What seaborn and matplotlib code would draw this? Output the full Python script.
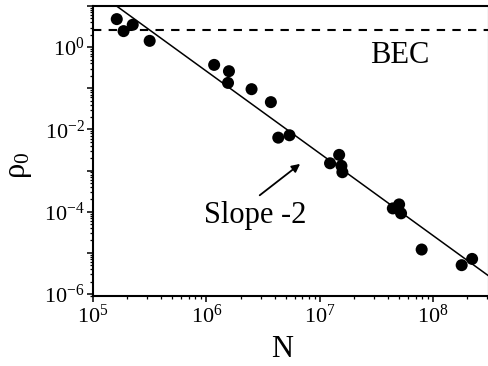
import numpy as np
import pandas as pd
import matplotlib
matplotlib.use("Agg")
import matplotlib.pyplot as plt
import matplotlib.ticker as mticker
import seaborn as sns

# phase-space density vs atom number
atom_number = [1.62e5, 1.86e5, 2.24e5, 3.16e5,
               1.17e6, 1.58e6, 1.55e6, 2.5e6, 3.7e6, 4.3e6, 5.4e6,
               1.48e7, 1.23e7, 1.55e7, 1.58e7,
               5.0e7, 4.4e7, 5.2e7, 7.9e7, 1.78e8, 2.2e8]
density = [4.8, 2.45, 3.5, 1.42,
           0.37, 0.26, 0.135, 0.095, 0.046, 6.3e-3, 7.2e-3,
           2.4e-3, 1.5e-3, 1.3e-3, 9.1e-4,
           1.5e-4, 1.2e-4, 9.1e-5, 1.2e-5, 5.0e-6, 7.1e-6]

bec_threshold = 2.612
fit_slope = -2
fit_amplitude = 2.6e11
fit_range = [1e5, 3.1e8]

df = pd.DataFrame({"N": atom_number, "rho": density})
fit = pd.DataFrame({"N": fit_range})
fit["rho"] = fit_amplitude * fit["N"] ** fit_slope

sns.set_style("ticks")
plt.rcParams["font.family"] = ["Liberation Serif", "DejaVu Serif"]
plt.rcParams["mathtext.fontset"] = "custom"
plt.rcParams["mathtext.rm"] = "Liberation Serif"
plt.rcParams["mathtext.it"] = "Liberation Serif:italic"
for key in ["text.color", "axes.labelcolor", "xtick.color", "ytick.color"]:
    plt.rcParams[key] = "black"

fig = plt.figure(figsize=(4.88, 3.66), dpi=100)
ax = fig.add_axes([93 / 488, 1 - 296 / 366, 396 / 488, 290 / 366])

sns.lineplot(data=fit, x="N", y="rho", ax=ax, color="black", lw=1.1)
sns.scatterplot(data=df, x="N", y="rho", ax=ax, color="black", s=75,
                edgecolor="none", zorder=3)
ax.axhline(bec_threshold, color="black", lw=1.5, ls=(0, (4, 3.5)))

ax.set_xscale("log")
ax.set_yscale("log")
ax.set_xlim(1e5, 3.1e8)
ax.set_ylim(8.9e-7, 10)

ax.xaxis.set_major_locator(mticker.LogLocator(base=10, numticks=20))
ax.xaxis.set_minor_locator(mticker.LogLocator(base=10, subs=np.arange(2, 10), numticks=100))
ax.yaxis.set_major_locator(mticker.LogLocator(base=10, numticks=20))
ax.yaxis.set_minor_locator(mticker.LogLocator(base=10, subs=np.arange(2, 10), numticks=100))
ax.xaxis.set_minor_formatter(mticker.NullFormatter())
ax.yaxis.set_minor_formatter(mticker.NullFormatter())


def even_decades(v, pos):
    e = int(round(np.log10(v)))
    if e % 2:
        return ""
    return r"$\mathdefault{10^{%d}}$" % e


ax.yaxis.set_major_formatter(mticker.FuncFormatter(even_decades))

ax.tick_params(which="major", direction="out", length=4, width=1.1,
               labelsize=16, pad=2)
ax.tick_params(which="minor", direction="out", length=2.5, width=0.9)
for sp in ax.spines.values():
    sp.set_linewidth(1.5)
    sp.set_color("black")

ax.set_xlabel("N", fontsize=22)
ax.set_ylabel(r"$\mathrm{\rho}_0$", fontsize=22)
ax.xaxis.set_label_coords(0.477, -0.135)
ax.yaxis.set_label_coords(-0.15, 0.45)

ax.text(5.1e7, 0.61, "BEC", fontsize=22, ha="center", va="center")
ax.text(2.7e6, 8.1e-5, "Slope -2", fontsize=22, ha="center", va="center")
ax.annotate("", xy=(6.7e6, 1.45e-3), xytext=(2.95e6, 2.5e-4),
            arrowprops=dict(arrowstyle="-|>", color="black", lw=1.3,
                            mutation_scale=12, shrinkA=0, shrinkB=0))

fig.savefig("out.png", dpi=100)
